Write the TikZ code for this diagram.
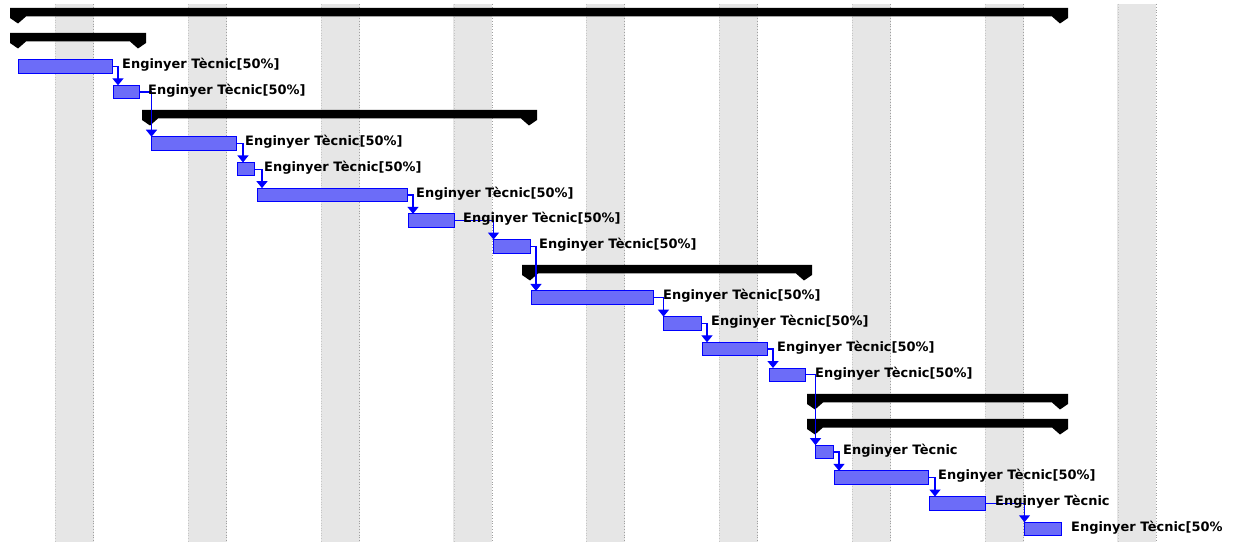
\documentclass[tikz,border=0pt]{standalone}
\usepackage{fontspec}
\setmainfont{DejaVu Sans}
\usetikzlibrary{arrows.meta,calc}
\definecolor{taskfill}{RGB}{108,108,248}
\definecolor{taskline}{RGB}{0,0,255}
\definecolor{linkc}{RGB}{0,0,255}
\definecolor{stripefill}{RGB}{230,230,230}
\definecolor{stripeedge}{RGB}{160,160,160}
\tikzset{
  taskbar/.style={draw=taskline, fill=taskfill, line width=1bp, minimum height=13.5bp, inner sep=0pt, outer sep=0pt, anchor=west},
  lab/.style={font=\bfseries\fontsize{13}{15}\selectfont, inner sep=0pt, anchor=base west, text=black},
  link/.style={draw=linkc, line width=1.3bp, -{Triangle[width=11bp,length=7bp]}},
  sumfill/.style={fill=black}
}
\newcommand{\sumbar}[3]{\fill[sumfill] (#1,#3) -- (#2,#3) -- (#2,#3+10) -- (#2-8,#3+15.5) -- (#2-16,#3+8.5) -- (#1+16,#3+8.5) -- (#1+8,#3+15.5) -- (#1,#3+10) -- cycle;}
\begin{document}
\begin{tikzpicture}[x=1bp,y=-1bp]
\useasboundingbox (0,0) rectangle (1235,542);
\fill[white] (0,0) rectangle (1235,542);
% weekend stripes
\foreach \k in {0,...,8}{
  \fill[stripefill] ({55+132.8*\k},4) rectangle ({94+132.8*\k},542);
  \draw[stripeedge, line width=0.8bp, dotted] ({93.6+132.8*\k},4) -- ({93.6+132.8*\k},542);
  \draw[stripeedge!60, line width=0.6bp, dotted] ({55.4+132.8*\k},4) -- ({55.4+132.8*\k},542);
}
% summary bars
\sumbar{10}{1068}{8}
\sumbar{10}{146}{33}
\sumbar{142}{537}{110}
\sumbar{522}{812}{265}
\sumbar{807}{1068}{394}
\sumbar{807}{1068}{419}
% tasks
\node[taskbar, minimum width=94bp] (t2) at (18,66.4) {};
\node[taskbar, minimum width=26bp] (t3) at (113,92.1) {};
\node[taskbar, minimum width=85bp] (t5) at (151,143.5) {};
\node[taskbar, minimum width=17bp] (t6) at (237,169.2) {};
\node[taskbar, minimum width=150bp] (t7) at (257,194.9) {};
\node[taskbar, minimum width=46bp] (t8) at (408,220.6) {};
\node[taskbar, minimum width=37bp] (t9) at (493,246.3) {};
\node[taskbar, minimum width=122bp] (t11) at (531,297.7) {};
\node[taskbar, minimum width=38bp] (t12) at (663,323.4) {};
\node[taskbar, minimum width=65bp] (t13) at (702,349.1) {};
\node[taskbar, minimum width=36bp] (t14) at (769,374.8) {};
\node[taskbar, minimum width=18bp] (t17) at (815,451.9) {};
\node[taskbar, minimum width=94bp] (t18) at (834,477.6) {};
\node[taskbar, minimum width=56bp] (t19) at (929,503.3) {};
\node[taskbar, minimum width=37bp] (t20) at (1024,529.0) {};
% links
\draw[link] (t2.east) -| ($(t3.north west)+(5,0)$);
\draw[link] (t3.east) -| ($(t5.north west)+(0.5,0)$);
\draw[link] (t5.east) -| ($(t6.north west)+(6,0)$);
\draw[link] (t6.east) -| ($(t7.north west)+(5,0)$);
\draw[link] (t7.east) -| ($(t8.north west)+(5,0)$);
\draw[link] (t8.east) -| ($(t9.north west)+(0.5,0)$);
\draw[link] (t9.east) -| ($(t11.north west)+(5,0)$);
\draw[link] (t11.east) -| ($(t12.north west)+(0.5,0)$);
\draw[link] (t12.east) -| ($(t13.north west)+(5,0)$);
\draw[link] (t13.east) -| ($(t14.north west)+(4,0)$);
\draw[link] (t14.east) -| ($(t17.north west)+(0.5,0)$);
\draw[link] (t17.east) -| ($(t18.north west)+(5,0)$);
\draw[link] (t18.east) -| ($(t19.north west)+(6,0)$);
\draw[link] (t19.east) -| ($(t20.north west)+(0.5,0)$);
% labels
\node[lab] (l2) at ($(t2.east)+(10,2.3)$) {Enginyer Tècnic[50\%]};
\node[lab] (l3) at ($(t3.east)+(9,2.3)$) {Enginyer Tècnic[50\%]};
\node[lab] (l5) at ($(t5.east)+(9,2.3)$) {Enginyer Tècnic[50\%]};
\node[lab] (l6) at ($(t6.east)+(10,2.3)$) {Enginyer Tècnic[50\%]};
\node[lab] (l7) at ($(t7.east)+(9,2.3)$) {Enginyer Tècnic[50\%]};
\node[lab] (l8) at ($(t8.east)+(9,2.3)$) {Enginyer Tècnic[50\%]};
\node[lab] (l9) at ($(t9.east)+(9,2.3)$) {Enginyer Tècnic[50\%]};
\node[lab] (l11) at ($(t11.east)+(10,2.3)$) {Enginyer Tècnic[50\%]};
\node[lab] (l12) at ($(t12.east)+(10,2.3)$) {Enginyer Tècnic[50\%]};
\node[lab] (l13) at ($(t13.east)+(10,2.3)$) {Enginyer Tècnic[50\%]};
\node[lab] (l14) at ($(t14.east)+(10,2.3)$) {Enginyer Tècnic[50\%]};
\node[lab] (l17) at ($(t17.east)+(10,2.3)$) {Enginyer Tècnic};
\node[lab] (l18) at ($(t18.east)+(10,2.3)$) {Enginyer Tècnic[50\%]};
\node[lab] (l19) at ($(t19.east)+(10,2.3)$) {Enginyer Tècnic};
\node[lab] (l20) at ($(t20.east)+(10,2.3)$) {Enginyer Tècnic[50\%};
\end{tikzpicture}
\end{document}
